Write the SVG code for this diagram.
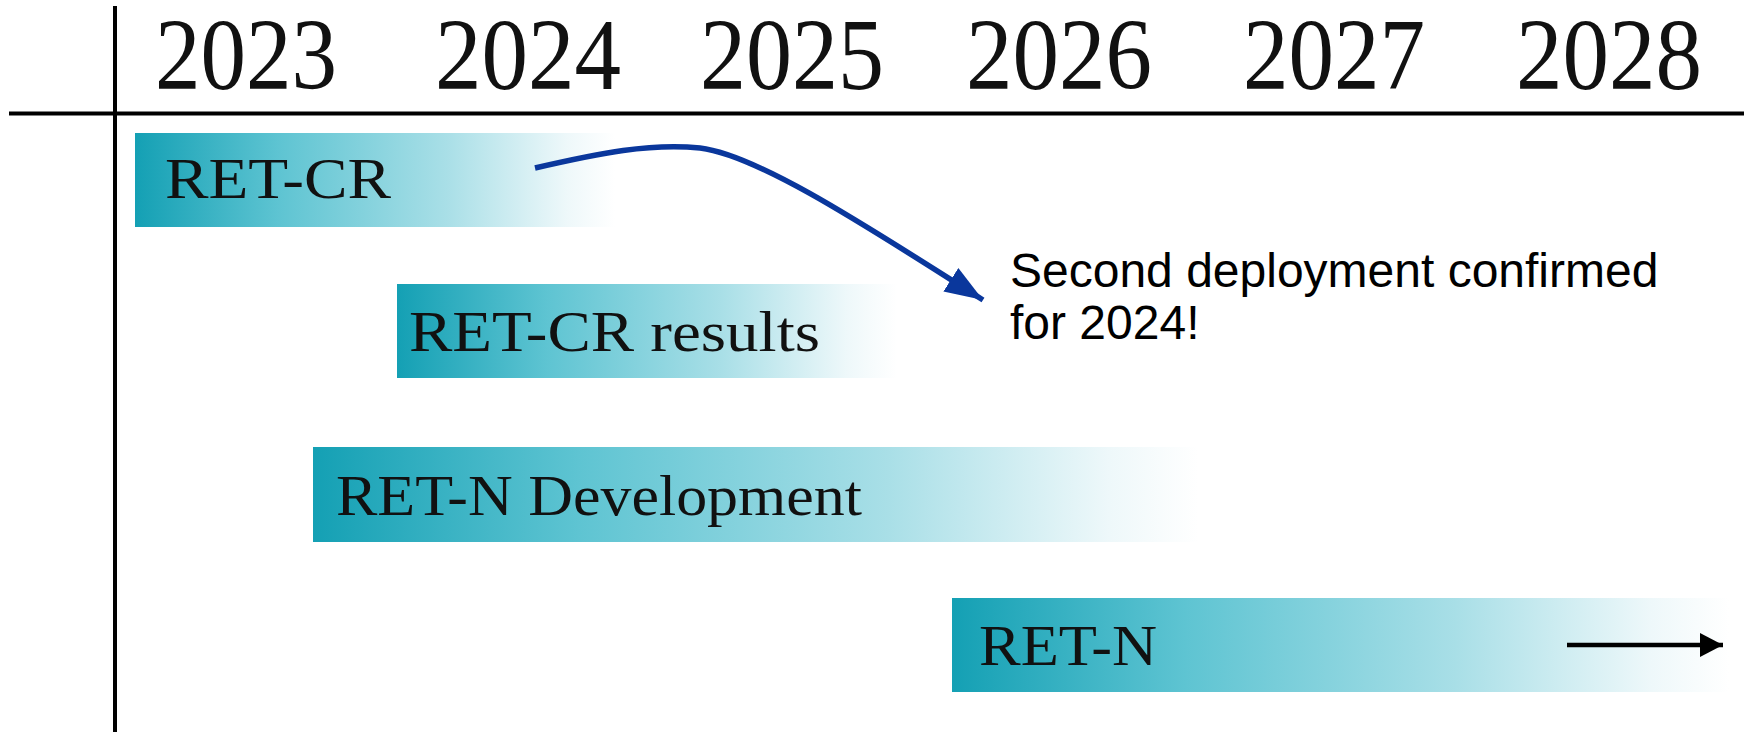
<svg xmlns="http://www.w3.org/2000/svg" width="1744" height="732" viewBox="0 0 1744 732">
  <style>
    .year { font-family: "Liberation Serif", "DejaVu Serif", serif; font-size: 101px; fill: #111; }
    .label { font-family: "Liberation Serif", "DejaVu Serif", serif; font-size: 58px; fill: #111; }
    .note { font-family: "Liberation Sans", Arial, sans-serif; font-size: 48px; fill: #000; }
    .axis { stroke: #000; stroke-width: 4; }
    .bar { fill: url(#fade); }
  </style>
  <defs>
    <linearGradient id="fade" x1="0" y1="0" x2="1" y2="0">
      <stop offset="0" stop-color="#14a0b4"/>
      <stop offset="0.3" stop-color="#5ec4d2"/>
      <stop offset="0.65" stop-color="#a9dfe7"/>
      <stop offset="0.9" stop-color="#eef8fa"/>
      <stop offset="1" stop-color="#ffffff"/>
    </linearGradient>
    <marker id="blueHead" markerUnits="userSpaceOnUse" markerWidth="42" markerHeight="32" refX="38" refY="16" orient="auto">
      <path d="M0,2 L38,16 L0,30 Z" fill="#0a379c"/>
    </marker>
    <marker id="blackHead" markerUnits="userSpaceOnUse" markerWidth="26" markerHeight="26" refX="23" refY="13" orient="auto">
      <path d="M0,1 L23,13 L0,25 Z" fill="#000"/>
    </marker>
  </defs>

  <rect width="1744" height="732" fill="#fff"/>

  <!-- timeline axes -->
  <g id="axes">
    <line class="axis" x1="115" y1="6" x2="115" y2="732"/>
    <line class="axis" x1="9" y1="113.5" x2="1744" y2="113.5"/>
  </g>

  <!-- year headings -->
  <g id="years">
    <text class="year" x="155" y="89" textLength="182" lengthAdjust="spacingAndGlyphs">2023</text>
    <text class="year" x="435" y="89" textLength="186" lengthAdjust="spacingAndGlyphs">2024</text>
    <text class="year" x="700" y="89" textLength="184" lengthAdjust="spacingAndGlyphs">2025</text>
    <text class="year" x="966" y="89" textLength="186" lengthAdjust="spacingAndGlyphs">2026</text>
    <text class="year" x="1243" y="89" textLength="182" lengthAdjust="spacingAndGlyphs">2027</text>
    <text class="year" x="1516" y="89" textLength="186" lengthAdjust="spacingAndGlyphs">2028</text>
  </g>

  <g id="ret-cr">
    <rect class="bar" x="135" y="133" width="480" height="94"/>
    <text class="label" x="165" y="198" textLength="226" lengthAdjust="spacingAndGlyphs">RET-CR</text>
  </g>

  <g id="ret-cr-results">
    <rect class="bar" x="397" y="284" width="500" height="94"/>
    <text class="label" x="409" y="351" textLength="411" lengthAdjust="spacingAndGlyphs">RET-CR results</text>
  </g>

  <g id="ret-n-development">
    <rect class="bar" x="313" y="447" width="885" height="95"/>
    <text class="label" x="336" y="515" textLength="526" lengthAdjust="spacingAndGlyphs">RET-N Development</text>
  </g>

  <g id="ret-n">
    <rect class="bar" x="952" y="598" width="777" height="94"/>
    <text class="label" x="979" y="665" textLength="178" lengthAdjust="spacingAndGlyphs">RET-N</text>
    <line x1="1567" y1="645" x2="1723" y2="645" stroke="#000" stroke-width="4.5" marker-end="url(#blackHead)"/>
  </g>

  <g id="note">
    <text class="note" x="1010" y="287">Second deployment confirmed</text>
    <text class="note" x="1010" y="339">for 2024!</text>
  </g>

  <g id="connectors">
    <path d="M535,168 C600,153 650,143 700,148 C760,155 880,235 983,300" fill="none" stroke="#0a379c" stroke-width="5.5" marker-end="url(#blueHead)"/>
  </g>
</svg>
